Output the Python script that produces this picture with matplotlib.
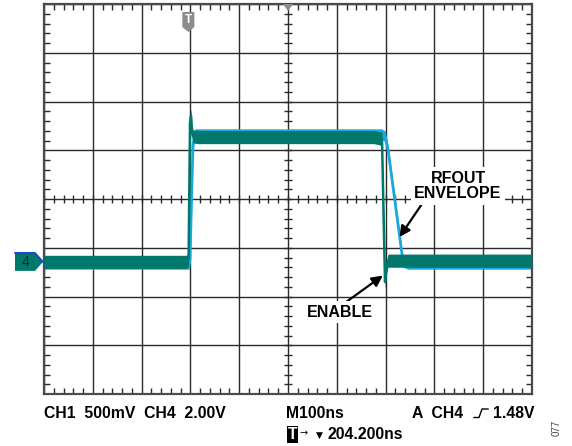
import numpy as np
import matplotlib
matplotlib.use("Agg")
import matplotlib.pyplot as plt
from matplotlib.patches import Polygon
from matplotlib import transforms

# scope settings
time_per_div = 100.0    # ns/div  (M100ns)
delay = 204.2           # ns, screen centre after trigger
ch1_scale = 0.5         # V/div
ch4_scale = 2.0         # V/div
ch1_pos = -1.33         # div
ch4_pos = -1.29         # div

# CH4: ENABLE (V)
enable_t = [-296, -4, 0.5, 3.4, 5.4, 7.5, 9.5, 20, 200, 380, 396.8, 400, 403, 405.5, 409, 450, 704]
enable_v = [0.0, 0.0, 0.1, 5.7, 6.0, 5.35, 5.15, 5.12, 5.12, 5.12, 5.05, 2.0, -0.82, -0.3, 0.05, 0.05, 0.05]
enable_noise = 0.27     # V, half height of the noise band

# CH1: RFOUT envelope (V)
rfout_t = [-296, 2.0, 3.4, 9.5, 13.6, 200, 396, 403, 409.2, 439.9, 450, 704]
rfout_v = [0.0, 0.0, 0.05, 1.22, 1.33, 1.33, 1.33, 1.31, 1.17, 0.02, 0.0, 0.0]
rfout_noise = 0.055

teal = "#00786c"
blue = "#1ea8da"
grid_col = "#2a2a2a"

W, H = 572, 446
fig = plt.figure(figsize=(W / 100, H / 100), dpi=100)
ax = fig.add_axes([44 / W, 1 - 394 / H, 488 / W, 390 / H])

def px(x, y):
    return x / W, 1 - y / H

t0 = delay - 5 * time_per_div
t1 = delay + 5 * time_per_div
ax.set_xlim(t0, t1)
ax.set_ylim(-4, 4)

# grid + border ticks
ax.set_xticks(np.arange(t0, t1 + 1, time_per_div))
ax.set_yticks(np.arange(-4, 4.1, 1))
ax.set_xticks(np.arange(t0, t1 + 1, time_per_div / 5), minor=True)
ax.set_yticks(np.arange(-4, 4.1, 0.2), minor=True)
ax.tick_params(which="both", direction="in", top=True, right=True,
               labelbottom=False, labelleft=False, color=grid_col)
ax.tick_params(which="major", length=0)
ax.tick_params(which="minor", length=4, width=1.0)
ax.grid(which="major", color=grid_col, lw=1.0, zorder=0)
for s in ax.spines.values():
    s.set_color("#4a4a4a")
    s.set_linewidth(1.6)

# centre cross with small ticks
ax.plot(np.full(41, delay), np.arange(-4, 4.01, 0.2), ls="none", marker="_",
        ms=6, mew=1.0, color=grid_col, zorder=1)
ax.plot(np.arange(t0, t1 + 1, time_per_div / 5), np.zeros(51), ls="none", marker="|",
        ms=6, mew=1.0, color=grid_col, zorder=1)

# traces (screen divisions)
rt = np.array(rfout_t)
ry = np.array(rfout_v) / ch1_scale + ch1_pos
rn = rfout_noise / ch1_scale
ax.fill_between(rt, ry - rn, ry + rn, color=blue, lw=0, zorder=2)
ax.plot(rt, ry, color=blue, lw=2.0, zorder=2)

et = np.array(enable_t)
ey = np.array(enable_v) / ch4_scale + ch4_pos
en = enable_noise / ch4_scale
ax.fill_between(et, ey - en, ey + en, color=teal, lw=0, zorder=3)
ax.plot(et, ey, color=teal, lw=1.8, zorder=3)

# annotations
lab = dict(fontsize=11.5, fontweight="bold", family="Liberation Sans", zorder=5,
           bbox=dict(facecolor="white", edgecolor="none", pad=2.5))
arrow = dict(arrowstyle="-|>", color="black", lw=1.6, mutation_scale=16, shrinkA=0, shrinkB=0)
ax.annotate("", xy=(432.7, -0.78), xytext=(478.8, -0.1), arrowprops=arrow, zorder=5)
ax.text(552.6, 0.27, "RFOUT\nENVELOPE", ha="center", va="center", linespacing=1.05, **lab)
ax.annotate("", xy=(398.5, -1.57), xytext=(321, -2.13), arrowprops=arrow, zorder=5)
ax.text(310.8, -2.32, "ENABLE", ha="center", va="center", **lab)

# channel 4 ground marker
ident = transforms.IdentityTransform()
fig.canvas.draw()
xl, yg = ax.transData.transform((t0, ch4_pos))
mk = Polygon([(xl - 29, yg + 9), (xl - 9, yg + 9), (xl - 1, yg), (xl - 9, yg - 9), (xl - 29, yg - 9)],
             closed=True, facecolor=teal, edgecolor="none", transform=ident, clip_on=False, zorder=6)
ax.add_patch(mk)
ax.plot([xl - 29, xl - 9, xl - 1], [yg + 9, yg + 9, yg], color="#1a3fd0", lw=1.2,
        transform=ident, clip_on=False, zorder=7)
ax.text(xl - 18, yg, "4", ha="center", va="center", fontsize=10, color="#0c2a28",
        family="Liberation Sans", transform=ident, zorder=8)

# trigger markers on top
xt, ytop = ax.transData.transform((0, 4))
tm = Polygon([(xt - 6, ytop - 8), (xt + 6, ytop - 8), (xt + 6, ytop - 23), (xt, ytop - 28), (xt - 6, ytop - 23)],
             closed=True, facecolor="#8c8c8c", edgecolor="none", transform=ident, clip_on=False, zorder=6)
ax.add_patch(tm)
ax.text(xt, ytop - 16, "T", ha="center", va="center", fontsize=8.5, color="white",
        fontweight="bold", family="Liberation Sans", transform=ident, zorder=7)
xc, _ = ax.transData.transform((delay, 4))
cm = Polygon([(xc - 5, ytop), (xc + 5, ytop), (xc, ytop - 7)], closed=True,
             facecolor="#8c8c8c", edgecolor="none", transform=ident, clip_on=False, zorder=6)
ax.add_patch(cm)

# readout
font = dict(fontsize=11.3, fontweight="bold", family="Liberation Sans", va="baseline")
fig.text(*px(44, 418), "CH1  500mV  CH4  2.00V", ha="left", **font)
fig.text(*px(286, 418), "M100ns", ha="left", **font)
fig.text(*px(412, 418), "A  CH4", ha="left", **font)
fig.text(*px(535, 418), "1.48V", ha="right", **font)
fig.add_artist(plt.Line2D([474 / W, 479 / W, 482 / W, 488 / W],
                          [1 - 417.5 / H, 1 - 417.5 / H, 1 - 409 / H, 1 - 409 / H],
                          color="black", lw=1.0))
fig.text(*px(287.5, 439), "T", ha="left", color="white",
         bbox=dict(facecolor="black", edgecolor="none", pad=0.6), **font)
fig.text(*px(299, 436), "\u2192", ha="left", fontsize=7, family=["DejaVu Sans"], va="baseline")
fig.text(*px(316, 438), "\u25bc", ha="left", fontsize=6.5, family=["DejaVu Sans"], va="baseline")
fig.text(*px(327, 439), "204.200ns", ha="left", **font)
fig.text(*px(557, 428), "077", rotation=90, ha="center", va="center", fontsize=7,
         color="#444444", family="Liberation Sans")

fig.savefig("out.png", dpi=100)
